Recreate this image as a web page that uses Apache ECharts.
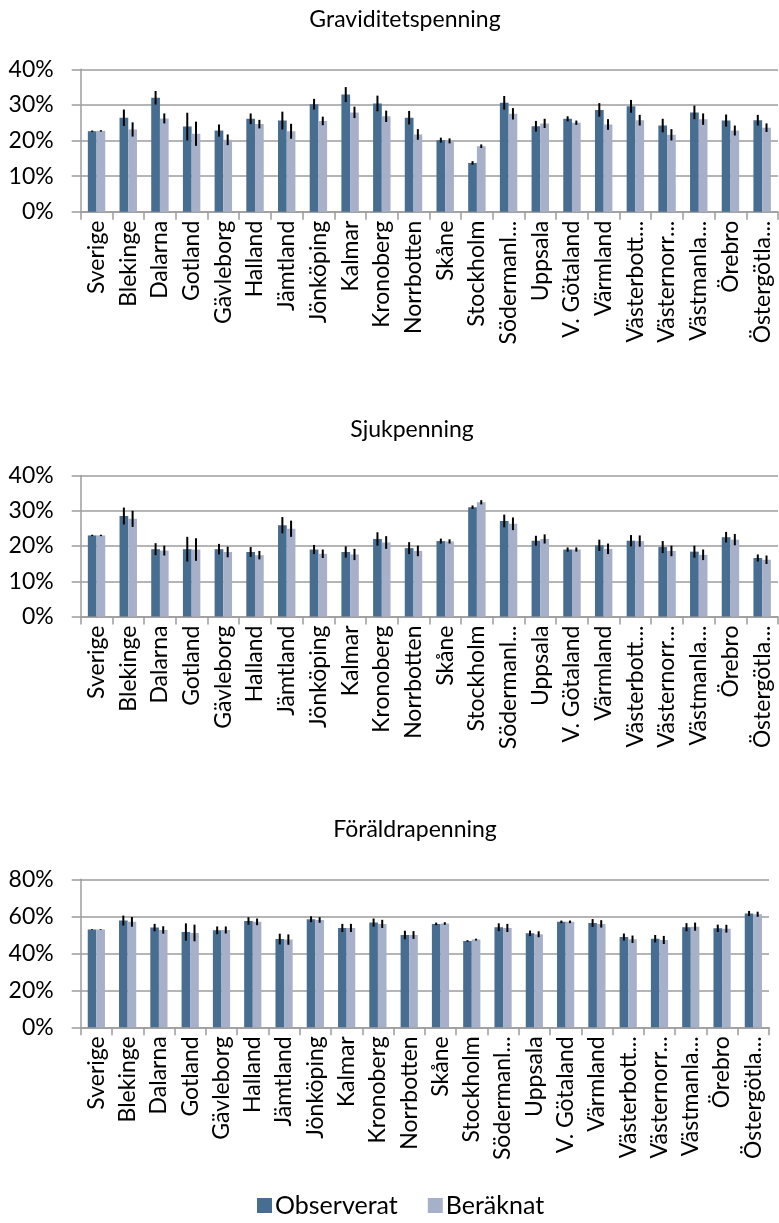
<!DOCTYPE html>
<html>
<head>
<meta charset="utf-8">
<script src="https://cdn.jsdelivr.net/npm/echarts@6/dist/echarts.min.js"></script>
<style>
  html, body { margin: 0; padding: 0; background: #fff; }
  #chart { width: 779px; height: 1223px; }
</style>
</head>
<body>
<div id="chart"></div>
<script>
// Regions (län) shown along every x axis
const regions = ['Sverige', 'Blekinge', 'Dalarna', 'Gotland', 'Gävleborg', 'Halland', 'Jämtland',
  'Jönköping', 'Kalmar', 'Kronoberg', 'Norrbotten', 'Skåne', 'Stockholm', 'Södermanland',
  'Uppsala', 'V. Götaland', 'Värmland', 'Västerbotten', 'Västernorrland', 'Västmanland',
  'Örebro', 'Östergötland'];

const panelTitles = ['Graviditetspenning', 'Sjukpenning', 'Föräldrapenning'];
const seriesNames = ['Observerat', 'Beräknat'];

// Graviditetspenning (%), with half-width of the confidence interval
const gravObs    = [22.6, 26.4, 32.0, 23.9, 22.8, 26.1, 25.6, 30.2, 32.9, 30.4, 26.4, 20.1, 13.7, 30.6, 24.0, 26.1, 28.6, 29.6, 24.2, 27.9, 25.6, 25.7];
const gravObsErr = [0.2, 2.3, 1.9, 3.9, 1.7, 1.5, 2.5, 1.5, 2.1, 2.2, 1.9, 0.7, 0.5, 1.9, 1.5, 0.7, 1.9, 1.8, 1.9, 1.9, 1.7, 1.5];
const gravBer    = [22.7, 23.1, 26.2, 21.9, 20.2, 24.6, 22.6, 25.5, 27.9, 26.8, 21.7, 19.9, 18.4, 27.5, 24.8, 25.0, 24.5, 25.7, 21.6, 26.0, 22.8, 23.6];
const gravBerErr = [0.2, 2.0, 1.4, 3.4, 1.5, 1.2, 2.1, 1.2, 1.6, 1.6, 1.5, 0.7, 0.5, 1.6, 1.3, 0.6, 1.5, 1.5, 1.6, 1.6, 1.4, 1.2];

// Sjukpenning (%)
const sjukObs    = [23.0, 28.5, 19.1, 19.1, 19.1, 18.3, 25.9, 19.0, 18.3, 22.0, 19.4, 21.4, 31.0, 27.1, 21.5, 19.0, 20.2, 21.5, 19.7, 18.4, 22.5, 16.6];
const sjukObsErr = [0.2, 2.4, 1.7, 3.5, 1.5, 1.4, 2.3, 1.3, 1.6, 1.9, 1.7, 0.7, 0.5, 1.8, 1.4, 0.6, 1.6, 1.6, 1.7, 1.7, 1.5, 1.0];
const sjukBer    = [23.0, 27.7, 18.7, 19.0, 18.3, 17.4, 24.9, 17.8, 17.6, 21.0, 18.6, 21.3, 32.4, 26.3, 22.0, 19.0, 19.2, 21.4, 18.6, 17.5, 21.8, 16.1];
const sjukBerErr = [0.2, 2.3, 1.4, 3.2, 1.5, 1.2, 2.3, 1.2, 1.6, 1.8, 1.5, 0.6, 0.6, 1.8, 1.3, 0.6, 1.5, 1.6, 1.5, 1.5, 1.6, 1.2];

// Föräldrapenning (%)
const foraObs    = [52.8, 57.7, 53.9, 51.5, 52.4, 57.5, 47.7, 58.4, 53.7, 56.6, 49.9, 55.9, 46.7, 54.1, 50.8, 57.0, 56.4, 48.8, 47.9, 54.1, 53.5, 61.5];
const foraObsErr = [0.2, 2.7, 2.0, 4.7, 2.1, 2.0, 2.9, 1.6, 2.2, 2.2, 2.3, 0.7, 0.4, 2.1, 1.5, 0.7, 2.1, 1.9, 2.0, 2.2, 2.0, 1.4];
const foraBer    = [52.8, 57.0, 52.6, 51.0, 52.6, 57.0, 47.4, 58.0, 53.7, 55.9, 49.9, 56.1, 47.4, 53.7, 50.3, 57.0, 55.9, 47.6, 47.2, 54.4, 53.3, 61.1];
const foraBerErr = [0.2, 2.6, 2.0, 4.5, 1.9, 1.8, 2.8, 1.5, 2.2, 2.2, 2.1, 0.7, 0.5, 2.2, 1.6, 0.7, 2.0, 2.0, 2.2, 2.2, 2.1, 1.4];

// y-axis scales per panel
const yMax = [40, 40, 80];
const yStep = [10, 10, 20];

const panels = [
  { obs: gravObs, obsErr: gravObsErr, ber: gravBer, berErr: gravBerErr },
  { obs: sjukObs, obsErr: sjukObsErr, ber: sjukBer, berErr: sjukBerErr },
  { obs: foraObs, obsErr: foraObsErr, ber: foraBer, berErr: foraBerErr }
];

const FONT = 'Lato';
const FONT_SIZE = 23;
const COL_OBS = '#476d90';
const COL_BER = '#a6b1c9';
const GRID_COL = '#9c9c9c';
const BAR_FRAC = 0.275;

// Category labels longer than the available depth are cut and end with '...'
const measureCtx = document.createElement('canvas').getContext('2d');
measureCtx.font = FONT_SIZE + 'px ' + FONT;
const LABEL_MAX = 120, LABEL_KEEP = 110;
function shortLabel(name) {
  if (measureCtx.measureText(name).width <= LABEL_MAX) return name;
  let s = name;
  while (s.length > 1 && measureCtx.measureText(s).width > LABEL_KEEP) s = s.slice(0, -1);
  return s + '...';
}

// plot rectangles: [left, top, right edge, bottom edge]
const boxes = [
  [80.7, 69.3, 778, 211.7],
  [80.7, 475.5, 778, 616.5],
  [80.7, 879.3, 769, 1027.3]
];
const titlePos = [[405, 20], [412, 430], [415, 830]];

const grids = [], xAxes = [], yAxes = [], series = [], graphics = [];

boxes.forEach((b, k) => {
  grids.push({ left: b[0], top: b[1], width: b[2] - b[0], height: b[3] - b[1], containLabel: false });
  xAxes.push({
    type: 'category', gridIndex: k, data: regions, boundaryGap: true,
    axisLine: { show: true, lineStyle: { color: GRID_COL, width: 1.5 } },
    axisTick: { show: true, length: 8, interval: 0, lineStyle: { color: GRID_COL, width: 1.5 } },
    axisLabel: {
      interval: 0, rotate: 90, margin: 9, color: '#000', fontFamily: FONT, fontSize: FONT_SIZE,
      formatter: shortLabel, hideOverlap: false
    },
    splitLine: { show: false }
  });
  yAxes.push({
    type: 'value', gridIndex: k, min: 0, max: yMax[k], interval: yStep[k],
    axisLine: { show: true, lineStyle: { color: GRID_COL, width: 1.5 } },
    axisTick: { show: true, length: 9, lineStyle: { color: GRID_COL, width: 1.5 } },
    axisLabel: { formatter: '{value}%', margin: 27, color: '#000', fontFamily: FONT, fontSize: FONT_SIZE },
    splitLine: { show: true, lineStyle: { color: GRID_COL, width: 1.5 } }
  });

  const p = panels[k];
  const cols = [COL_OBS, COL_BER];
  [[p.obs, p.obsErr], [p.ber, p.berErr]].forEach((pair, s) => {
    series.push({
      name: seriesNames[s], type: 'bar', xAxisIndex: k, yAxisIndex: k,
      data: pair[0], barWidth: (BAR_FRAC * 100) + '%', barGap: '0%',
      itemStyle: { color: cols[s] }, silent: true, animation: false
    });
  });
  // error bars, one custom series per bar series
  [[p.obs, p.obsErr, -1], [p.ber, p.berErr, 1]].forEach((pair) => {
    const side = pair[2];
    series.push({
      type: 'custom', xAxisIndex: k, yAxisIndex: k, silent: true, animation: false, z: 5,
      data: pair[0].map((v, i) => [i, v, pair[1][i]]),
      encode: { x: 0, y: 1 },
      renderItem: function (params, api) {
        const i = api.value(0), v = api.value(1), e = api.value(2);
        const band = api.size([1, 0])[0];
        const x = api.coord([i, v])[0] + side * band * BAR_FRAC / 2;
        const y1 = api.coord([i, v + e])[1];
        const y2 = api.coord([i, v - e])[1];
        return { type: 'line', shape: { x1: x, y1: y1, x2: x, y2: y2 },
                 style: { stroke: '#000', lineWidth: 2 } };
      }
    });
  });

  graphics.push({
    type: 'text', x: titlePos[k][0], y: titlePos[k][1],
    style: { text: panelTitles[k], fontFamily: FONT, fontSize: FONT_SIZE, fill: '#000',
             textAlign: 'center', textVerticalAlign: 'middle' }
  });
});

const chart = echarts.init(document.getElementById('chart'), null, { renderer: 'canvas' });
chart.setOption({
  animation: false,
  backgroundColor: '#fff',
  grid: grids,
  xAxis: xAxes,
  yAxis: yAxes,
  series: series,
  graphic: graphics,
  legend: {
    data: seriesNames, left: 252, top: 1188, icon: 'rect',
    itemWidth: 15, itemHeight: 15, itemGap: 30,
    textStyle: { fontFamily: FONT, fontSize: 25, color: '#000', padding: [0, 0, 0, -2] }
  }
});
</script>
</body>
</html>
